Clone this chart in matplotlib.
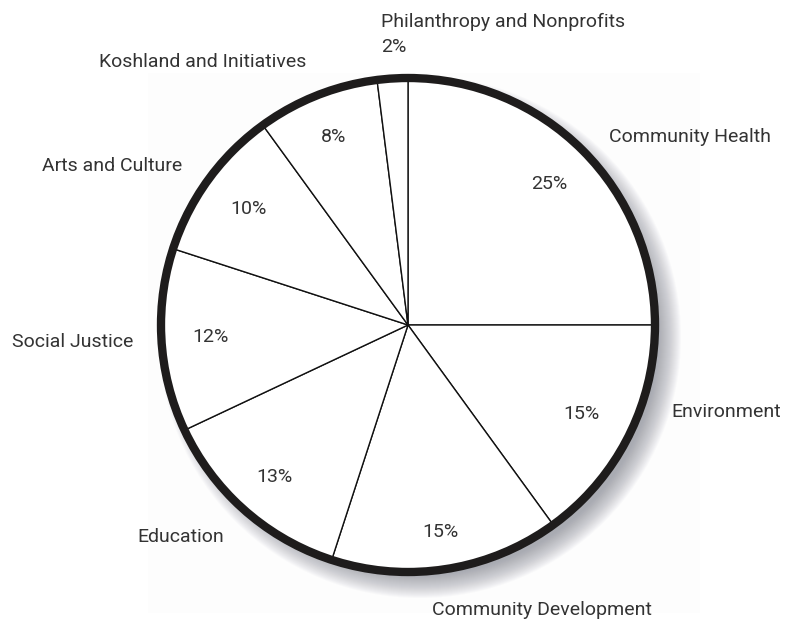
import numpy as np
import matplotlib.pyplot as plt
from matplotlib.patches import Circle, Rectangle

# Données
categories = ['Community Health', 'Environment', 'Community Development',
              'Education', 'Social Justice', 'Arts and Culture',
              'Koshland and Initiatives', 'Philanthropy and Nonprofits']
shares = [25, 15, 15, 13, 12, 10, 8, 2]

# Placement des étiquettes extérieures (pixels, origine en haut à gauche)
label_pos = [(609, 137, 'left'), (671, 412, 'left'), (542, 610, 'center'),
             (181, 537, 'center'), (73, 342, 'center'), (112, 166, 'center'),
             (203, 62, 'center'), (381, 22, 'left')]
pct_r = [0.81, 0.79, 0.85, 0.82, 0.80, 0.80, 0.82, None]

W, H = 792, 626
cx, cy, R = 408, H - 325, 247
txt = '#333333'
font = ['Roboto', 'DejaVu Sans']
fs = 14

fig = plt.figure(figsize=(W / 100, H / 100), dpi=100)
ax = fig.add_axes([0, 0, 1, 1])
ax.set_xlim(0, W)
ax.set_ylim(0, H)
ax.set_aspect('equal')
ax.axis('off')

# Fond très léger
ax.add_patch(Rectangle((148, H - 613), 552, 540, color='#fdfdfd', zorder=0, lw=0))

# Ombre douce en bas à droite
for i in range(24):
    ax.add_patch(Circle((cx + 12, cy - 12), R + 14 - i * 1.0, color='#70737e',
                        alpha=0.03, lw=0, zorder=1))

wedges, _ = ax.pie(shares, startangle=90, counterclock=False, center=(cx, cy),
                   radius=R, colors=['white'] * len(shares),
                   wedgeprops=dict(edgecolor='#111111', linewidth=1.0, zorder=2))
ax.set_xlim(0, W)
ax.set_ylim(0, H)
ax.add_patch(Circle((cx, cy), R, fill=False, edgecolor='#1e1c1c', lw=6, zorder=3))

# Pourcentages
start = 90.0
for v, r in zip(shares, pct_r):
    mid = np.deg2rad(start - v * 3.6 / 2)
    start -= v * 3.6
    if r is None:
        continue
    ax.text(cx + r * R * np.cos(mid), cy + r * R * np.sin(mid), f'{v}%',
            ha='center', va='center', fontsize=fs, color=txt, family=font)

# Étiquettes
for name, v, (x, y, ha) in zip(categories, shares, label_pos):
    ax.text(x, H - y, name, ha=ha, va='center', fontsize=fs, color=txt,
            family=font)
    if name.startswith('Philanthropy'):
        ax.text(x, H - y - 25, f'{v}%', ha=ha, va='center', fontsize=fs,
                color=txt, family=font)

fig.savefig('out.png', dpi=100, facecolor='white')
